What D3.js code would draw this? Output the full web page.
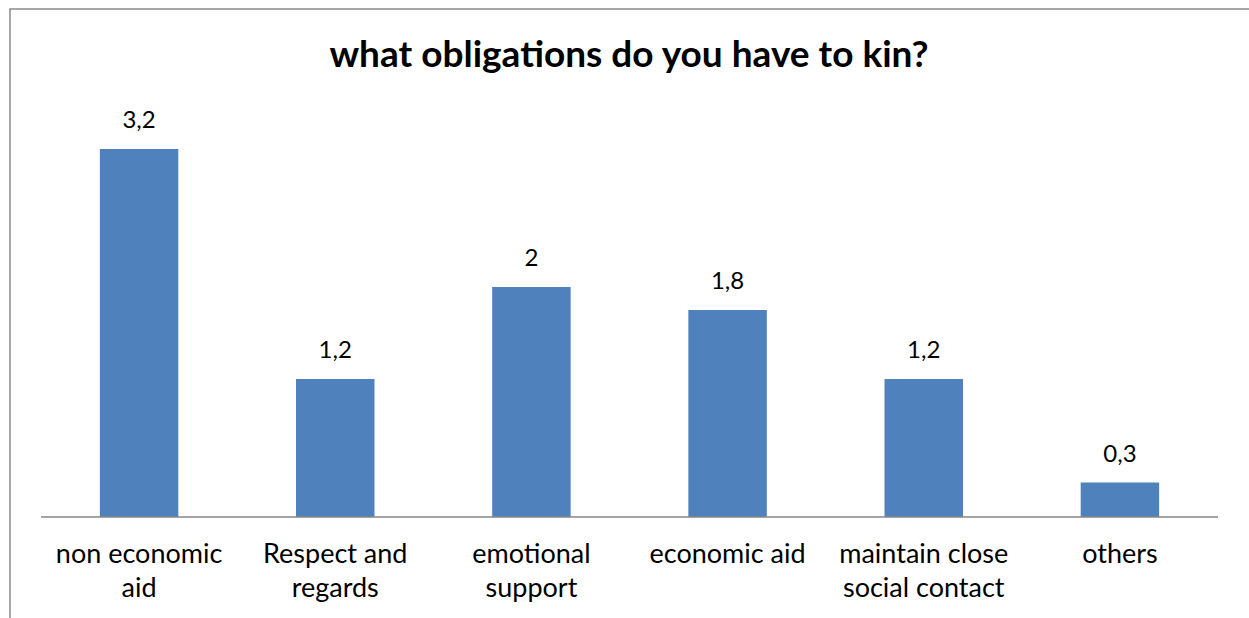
<!DOCTYPE html>
<html><head><meta charset="utf-8">
<script src="https://cdn.jsdelivr.net/npm/d3@7"></script>
<style>html,body{margin:0;padding:0;background:#fff;overflow:hidden}</style>
</head><body>
<svg id="chart" width="1249" height="618"></svg>
<script>
const title = "what obligations do you have to kin?";
const categories = ["non economic aid","Respect and regards","emotional support","economic aid","maintain close social contact","others"];
const values = [3.2,1.2,2,1.8,1.2,0.3];

const W = 1249, H = 618;
const svg = d3.select("#chart");
const font = "Lato, 'Open Sans', sans-serif";

// outer frame
svg.append("rect").attr("x",10).attr("y",9).attr("width",W+20).attr("height",H+20)
  .attr("fill","#fff").attr("stroke","#8a8a8a").attr("stroke-width",1.5);

const x0 = 41, x1 = 1218, yBase = 517;
const x = d3.scaleBand().domain(categories).range([x0,x1]).paddingInner(0.6).paddingOuter(0.3);
const y = d3.scaleLinear().domain([0,3.5]).range([yBase, yBase - 3.5*115]);

svg.append("text").attr("x",629).attr("y",67).attr("text-anchor","middle")
  .attr("font-family",font).attr("font-weight","bold").attr("font-size",37).attr("fill","#000")
  .text(title);

svg.selectAll("rect.bar").data(values).enter().append("rect").attr("class","bar")
  .attr("x",(d,i)=>x(categories[i])).attr("width",x.bandwidth())
  .attr("y",d=>y(d)).attr("height",d=>y(0)-y(d)).attr("fill","#4F81BD");

const fmt = d => String(d).replace(".",",");
svg.selectAll("text.val").data(values).enter().append("text").attr("class","val")
  .attr("x",(d,i)=>x(categories[i])+x.bandwidth()/2).attr("y",d=>y(d)-21)
  .attr("text-anchor","middle").attr("font-family",font).attr("font-size",24).attr("fill","#000")
  .text(fmt);

// axis
const axis = d3.axisBottom(x).tickSize(0).tickFormat("");
const gA = svg.append("g").attr("transform",`translate(0,${yBase})`).call(axis);
gA.select(".domain").attr("stroke","#868686").attr("stroke-width",1.5).attr("d",`M${x0},0H${x1}`);

// category labels with wrapping
const maxW = x.step() - 8;
categories.forEach(c=>{
  const t = svg.append("text").attr("text-anchor","middle").attr("font-family",font)
    .attr("font-size",27).attr("fill","#000");
  const cx = x(c)+x.bandwidth()/2;
  const words = c.split(" ");
  let lines = [], cur = [];
  const probe = t.append("tspan");
  words.forEach(w=>{
    const test = cur.concat([w]).join(" ");
    probe.text(test);
    if (probe.node().getComputedTextLength() > maxW && cur.length){ lines.push(cur.join(" ")); cur=[w]; }
    else cur.push(w);
  });
  lines.push(cur.join(" "));
  probe.remove();
  lines.forEach((l,i)=>t.append("tspan").attr("x",cx).attr("y",563+i*34).text(l));
});
</script>
</body></html>
